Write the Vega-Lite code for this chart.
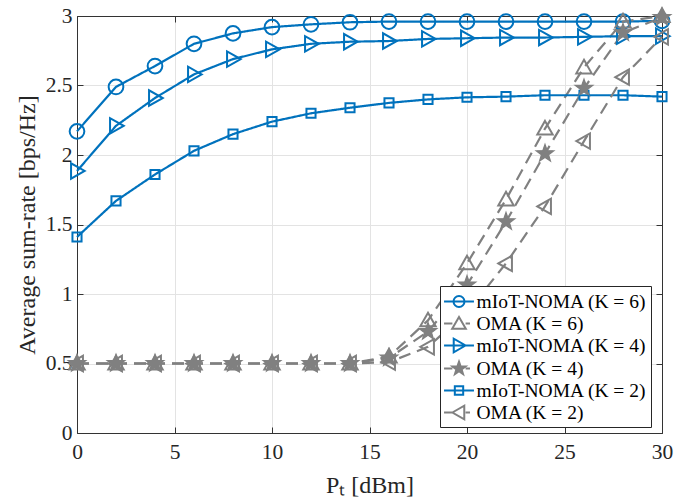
{
  "$schema": "https://vega.github.io/schema/vega-lite/v6.json",
  "width": 585,
  "height": 417,
  "autosize": {"type": "none"},
  "padding": {"left": 77, "top": 16, "right": 30, "bottom": 71},
  "background": "white",
  "datasets": {
    "d": [
      {"series": "mIoT-NOMA (K = 6)", "x": 0, "y": 2.17},
      {"series": "mIoT-NOMA (K = 6)", "x": 2, "y": 2.49},
      {"series": "mIoT-NOMA (K = 6)", "x": 4, "y": 2.64},
      {"series": "mIoT-NOMA (K = 6)", "x": 6, "y": 2.80},
      {"series": "mIoT-NOMA (K = 6)", "x": 8, "y": 2.875},
      {"series": "mIoT-NOMA (K = 6)", "x": 10, "y": 2.92},
      {"series": "mIoT-NOMA (K = 6)", "x": 12, "y": 2.94},
      {"series": "mIoT-NOMA (K = 6)", "x": 14, "y": 2.955},
      {"series": "mIoT-NOMA (K = 6)", "x": 16, "y": 2.96},
      {"series": "mIoT-NOMA (K = 6)", "x": 18, "y": 2.96},
      {"series": "mIoT-NOMA (K = 6)", "x": 20, "y": 2.96},
      {"series": "mIoT-NOMA (K = 6)", "x": 22, "y": 2.96},
      {"series": "mIoT-NOMA (K = 6)", "x": 24, "y": 2.96},
      {"series": "mIoT-NOMA (K = 6)", "x": 26, "y": 2.96},
      {"series": "mIoT-NOMA (K = 6)", "x": 28, "y": 2.96},
      {"series": "mIoT-NOMA (K = 6)", "x": 30, "y": 2.965},
      {"series": "OMA (K = 6)", "x": 0, "y": 0.5},
      {"series": "OMA (K = 6)", "x": 2, "y": 0.5},
      {"series": "OMA (K = 6)", "x": 4, "y": 0.5},
      {"series": "OMA (K = 6)", "x": 6, "y": 0.5},
      {"series": "OMA (K = 6)", "x": 8, "y": 0.5},
      {"series": "OMA (K = 6)", "x": 10, "y": 0.5},
      {"series": "OMA (K = 6)", "x": 12, "y": 0.5},
      {"series": "OMA (K = 6)", "x": 14, "y": 0.5},
      {"series": "OMA (K = 6)", "x": 16, "y": 0.55},
      {"series": "OMA (K = 6)", "x": 18, "y": 0.81},
      {"series": "OMA (K = 6)", "x": 20, "y": 1.22},
      {"series": "OMA (K = 6)", "x": 22, "y": 1.68},
      {"series": "OMA (K = 6)", "x": 24, "y": 2.19},
      {"series": "OMA (K = 6)", "x": 26, "y": 2.63},
      {"series": "OMA (K = 6)", "x": 28, "y": 2.96},
      {"series": "OMA (K = 6)", "x": 30, "y": 3.0},
      {"series": "mIoT-NOMA (K = 4)", "x": 0, "y": 1.885},
      {"series": "mIoT-NOMA (K = 4)", "x": 2, "y": 2.21},
      {"series": "mIoT-NOMA (K = 4)", "x": 4, "y": 2.41},
      {"series": "mIoT-NOMA (K = 4)", "x": 6, "y": 2.58},
      {"series": "mIoT-NOMA (K = 4)", "x": 8, "y": 2.69},
      {"series": "mIoT-NOMA (K = 4)", "x": 10, "y": 2.76},
      {"series": "mIoT-NOMA (K = 4)", "x": 12, "y": 2.80},
      {"series": "mIoT-NOMA (K = 4)", "x": 14, "y": 2.815},
      {"series": "mIoT-NOMA (K = 4)", "x": 16, "y": 2.82},
      {"series": "mIoT-NOMA (K = 4)", "x": 18, "y": 2.835},
      {"series": "mIoT-NOMA (K = 4)", "x": 20, "y": 2.84},
      {"series": "mIoT-NOMA (K = 4)", "x": 22, "y": 2.845},
      {"series": "mIoT-NOMA (K = 4)", "x": 24, "y": 2.845},
      {"series": "mIoT-NOMA (K = 4)", "x": 26, "y": 2.85},
      {"series": "mIoT-NOMA (K = 4)", "x": 28, "y": 2.855},
      {"series": "mIoT-NOMA (K = 4)", "x": 30, "y": 2.855},
      {"series": "OMA (K = 4)", "x": 0, "y": 0.5},
      {"series": "OMA (K = 4)", "x": 2, "y": 0.5},
      {"series": "OMA (K = 4)", "x": 4, "y": 0.5},
      {"series": "OMA (K = 4)", "x": 6, "y": 0.5},
      {"series": "OMA (K = 4)", "x": 8, "y": 0.5},
      {"series": "OMA (K = 4)", "x": 10, "y": 0.5},
      {"series": "OMA (K = 4)", "x": 12, "y": 0.5},
      {"series": "OMA (K = 4)", "x": 14, "y": 0.5},
      {"series": "OMA (K = 4)", "x": 16, "y": 0.54},
      {"series": "OMA (K = 4)", "x": 18, "y": 0.73},
      {"series": "OMA (K = 4)", "x": 20, "y": 1.065},
      {"series": "OMA (K = 4)", "x": 22, "y": 1.52},
      {"series": "OMA (K = 4)", "x": 24, "y": 2.01},
      {"series": "OMA (K = 4)", "x": 26, "y": 2.48},
      {"series": "OMA (K = 4)", "x": 28, "y": 2.88},
      {"series": "OMA (K = 4)", "x": 30, "y": 2.99},
      {"series": "mIoT-NOMA (K = 2)", "x": 0, "y": 1.41},
      {"series": "mIoT-NOMA (K = 2)", "x": 2, "y": 1.67},
      {"series": "mIoT-NOMA (K = 2)", "x": 4, "y": 1.86},
      {"series": "mIoT-NOMA (K = 2)", "x": 6, "y": 2.03},
      {"series": "mIoT-NOMA (K = 2)", "x": 8, "y": 2.15},
      {"series": "mIoT-NOMA (K = 2)", "x": 10, "y": 2.24},
      {"series": "mIoT-NOMA (K = 2)", "x": 12, "y": 2.30},
      {"series": "mIoT-NOMA (K = 2)", "x": 14, "y": 2.34},
      {"series": "mIoT-NOMA (K = 2)", "x": 16, "y": 2.375},
      {"series": "mIoT-NOMA (K = 2)", "x": 18, "y": 2.40},
      {"series": "mIoT-NOMA (K = 2)", "x": 20, "y": 2.415},
      {"series": "mIoT-NOMA (K = 2)", "x": 22, "y": 2.42},
      {"series": "mIoT-NOMA (K = 2)", "x": 24, "y": 2.43},
      {"series": "mIoT-NOMA (K = 2)", "x": 26, "y": 2.43},
      {"series": "mIoT-NOMA (K = 2)", "x": 28, "y": 2.43},
      {"series": "mIoT-NOMA (K = 2)", "x": 30, "y": 2.42},
      {"series": "OMA (K = 2)", "x": 0, "y": 0.5},
      {"series": "OMA (K = 2)", "x": 2, "y": 0.5},
      {"series": "OMA (K = 2)", "x": 4, "y": 0.5},
      {"series": "OMA (K = 2)", "x": 6, "y": 0.5},
      {"series": "OMA (K = 2)", "x": 8, "y": 0.5},
      {"series": "OMA (K = 2)", "x": 10, "y": 0.5},
      {"series": "OMA (K = 2)", "x": 12, "y": 0.5},
      {"series": "OMA (K = 2)", "x": 14, "y": 0.5},
      {"series": "OMA (K = 2)", "x": 16, "y": 0.51},
      {"series": "OMA (K = 2)", "x": 18, "y": 0.62},
      {"series": "OMA (K = 2)", "x": 20, "y": 0.87},
      {"series": "OMA (K = 2)", "x": 22, "y": 1.22},
      {"series": "OMA (K = 2)", "x": 24, "y": 1.63},
      {"series": "OMA (K = 2)", "x": 26, "y": 2.10},
      {"series": "OMA (K = 2)", "x": 28, "y": 2.56},
      {"series": "OMA (K = 2)", "x": 30, "y": 2.85}
    ]
  },
  "data": {"name": "d"},
  "layer": [
    {
      "mark": {"type": "line", "strokeWidth": 2.2, "clip": false},
      "encoding": {
        "x": {"field": "x", "type": "quantitative", "scale": {"domain": [0, 30], "nice": false, "zero": false},
          "axis": {"orient": "bottom", "values": [0, 5, 10, 15, 20, 25, 30], "format": "d", "title": "Pₜ [dBm]", "grid": true, "titlePadding": 11, "labelPadding": 14}},
        "y": {"field": "y", "type": "quantitative", "scale": {"domain": [0, 3], "nice": false, "zero": false},
          "axis": {"orient": "left", "values": [0, 0.5, 1, 1.5, 2, 2.5, 3], "format": "~g", "title": "Average sum-rate [bps/Hz]", "grid": true, "titlePadding": 6, "labelPadding": 11}},
        "color": {"field": "series", "type": "nominal", "legend": null,
          "scale": {"domain": ["mIoT-NOMA (K = 6)", "OMA (K = 6)", "mIoT-NOMA (K = 4)", "OMA (K = 4)", "mIoT-NOMA (K = 2)", "OMA (K = 2)"],
            "range": ["#0072BD", "#808080", "#0072BD", "#808080", "#0072BD", "#808080"]}},
        "strokeDash": {"field": "series", "type": "nominal", "legend": null,
          "scale": {"domain": ["mIoT-NOMA (K = 6)", "OMA (K = 6)", "mIoT-NOMA (K = 4)", "OMA (K = 4)", "mIoT-NOMA (K = 2)", "OMA (K = 2)"],
            "range": [[1, 0], [12, 7], [1, 0], [12, 7], [1, 0], [12, 7]]}}
      }
    },
    {
      "mark": {"type": "point", "filled": false, "size": 196, "strokeWidth": 2, "opacity": 1},
      "encoding": {
        "x": {"field": "x", "type": "quantitative", "axis": {"orient": "top", "labels": false, "title": null, "grid": false, "values": [0, 5, 10, 15, 20, 25, 30]}},
        "y": {"field": "y", "type": "quantitative", "axis": {"orient": "right", "labels": false, "title": null, "grid": false, "values": [0, 0.5, 1, 1.5, 2, 2.5, 3]}},
        "color": {"field": "series", "type": "nominal", "legend": null,
          "scale": {"domain": ["mIoT-NOMA (K = 6)", "OMA (K = 6)", "mIoT-NOMA (K = 4)", "OMA (K = 4)", "mIoT-NOMA (K = 2)", "OMA (K = 2)"],
            "range": ["#0072BD", "#808080", "#0072BD", "#808080", "#0072BD", "#808080"]}},
        "shape": {"field": "series", "type": "nominal", "legend": null,
          "scale": {"domain": ["mIoT-NOMA (K = 6)", "OMA (K = 6)", "mIoT-NOMA (K = 4)", "OMA (K = 4)", "mIoT-NOMA (K = 2)", "OMA (K = 2)"],
            "range": [
              "M 1.05 0 A 1.05 1.05 0 1 1 -1.05 0 A 1.05 1.05 0 1 1 1.05 0 Z",
              "M 0 -1.1 L 1.1 0.85 L -1.1 0.85 Z",
              "M 1.1 0 L -0.85 1.1 L -0.85 -1.1 Z",
              "M 0 -1.15 L 0.27 -0.372 L 1.094 -0.355 L 0.437 0.142 L 0.676 0.93 L 0 0.46 L -0.676 0.93 L -0.437 0.142 L -1.094 -0.355 L -0.27 -0.372 Z",
              "M -0.65 -0.65 L 0.65 -0.65 L 0.65 0.65 L -0.65 0.65 Z",
              "M -1.1 0 L 0.85 -1.1 L 0.85 1.1 Z"
            ]}}
      }
    },
    {
      "transform": [{"filter": "datum.series === 'OMA (K = 4)'"}],
      "mark": {"type": "point", "filled": true, "size": 196, "opacity": 1, "color": "#808080", "stroke": "#808080", "strokeWidth": 1,
        "shape": "M 0 -1.15 L 0.27 -0.372 L 1.094 -0.355 L 0.437 0.142 L 0.676 0.93 L 0 0.46 L -0.676 0.93 L -0.437 0.142 L -1.094 -0.355 L -0.27 -0.372 Z"},
      "encoding": {
        "x": {"field": "x", "type": "quantitative", "axis": null},
        "y": {"field": "y", "type": "quantitative", "axis": null}
      }
    },
    {
      "transform": [{"filter": "datum.x < -100"}],
      "mark": {"type": "point", "filled": false, "strokeWidth": 2, "opacity": 1},
      "encoding": {
        "x": {"field": "x", "type": "quantitative", "axis": null},
        "y": {"field": "y", "type": "quantitative", "axis": null},
        "color": {"field": "series", "type": "nominal",
          "scale": {"domain": ["mIoT-NOMA (K = 6)", "OMA (K = 6)", "mIoT-NOMA (K = 4)", "OMA (K = 4)", "mIoT-NOMA (K = 2)", "OMA (K = 2)"],
            "range": ["#0072BD", "#808080", "#0072BD", "#808080", "#0072BD", "#808080"]},
          "legend": {"title": null, "orient": "none", "legendX": 363, "legendY": 270}},
        "shape": {"field": "series", "type": "nominal",
          "scale": {"domain": ["mIoT-NOMA (K = 6)", "OMA (K = 6)", "mIoT-NOMA (K = 4)", "OMA (K = 4)", "mIoT-NOMA (K = 2)", "OMA (K = 2)"],
            "range": [
              "M -1.36 0 L 1.36 0 M 0.5 0 A 0.5 0.5 0 1 1 -0.5 0 A 0.5 0.5 0 1 1 0.5 0 Z",
              "M -1.36 0 L -0.6 0 M 0.6 0 L 1.0 0 M 0 -0.6 L 0.62 0.48 L -0.62 0.48 Z",
              "M -1.36 0 L 1.36 0 M 0.6 0 L -0.48 0.62 L -0.48 -0.62 Z",
              "M -1.36 0 L -0.6 0 M 0.6 0 L 1.0 0 M 0 -0.62 L 0.146 -0.2 L 0.59 -0.19 L 0.236 0.077 L 0.365 0.5 L 0 0.248 L -0.365 0.5 L -0.236 0.077 L -0.59 -0.19 L -0.146 -0.2 Z M 0 -0.3 L 0.071 -0.097 L 0.285 -0.093 L 0.114 0.037 L 0.176 0.243 L 0 0.12 L -0.176 0.243 L -0.114 0.037 L -0.285 -0.093 L -0.071 -0.097 Z",
              "M -1.36 0 L 1.36 0 M -0.38 -0.38 L 0.38 -0.38 L 0.38 0.38 L -0.38 0.38 Z",
              "M -1.36 0 L -0.6 0 M 0.6 0 L 1.0 0 M -0.6 0 L 0.48 -0.62 L 0.48 0.62 Z"
            ]},
          "legend": {"title": null, "orient": "none", "legendX": 363, "legendY": 270}}
      }
    }
  ],
  "resolve": {
    "scale": {"color": "independent", "shape": "independent"},
    "axis": {"x": "independent", "y": "independent"}
  },
  "config": {
    "font": "Liberation Serif",
    "view": {"stroke": null},
    "axis": {
      "labelFont": "Liberation Serif", "titleFont": "Liberation Serif",
      "labelFontSize": 21.5, "titleFontSize": 24, "titleFontWeight": "normal",
      "labelColor": "#262626", "titleColor": "#262626",
      "domainColor": "#333333", "domainWidth": 1, "tickColor": "#333333", "tickWidth": 1,
      "tickSize": -6, "gridColor": "#e3e3e3", "gridWidth": 1,
      "labelFlush": false, "labelOverlap": false, "labelBound": false
    },
    "legend": {
      "padding": 3.5, "strokeColor": "#262626", "fillColor": "white", "cornerRadius": 0,
      "symbolSize": 484, "symbolStrokeWidth": 2, "symbolOpacity": 1,
      "labelFont": "Liberation Serif", "labelFontSize": 19.5, "labelColor": "#000000",
      "rowPadding": 0, "symbolOffset": 3.5, "labelOffset": 5.5, "labelLimit": 300
    }
  }
}
